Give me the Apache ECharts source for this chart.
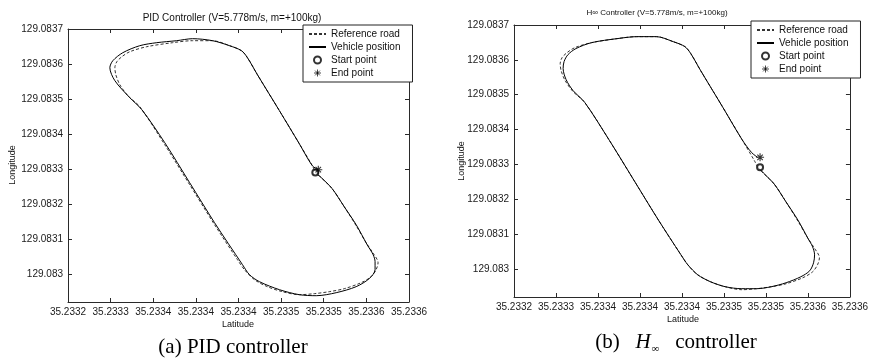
<!DOCTYPE html>
<html>
<head>
<meta charset="utf-8">
<script src="https://cdn.jsdelivr.net/npm/echarts@6/dist/echarts.min.js"></script>
<style>
  html, body { margin: 0; padding: 0; background: #fff; }
  #chart { width: 871px; height: 360px; }
</style>
</head>
<body>
<div id="chart"></div>
<script>
// Axis ticks and their printed labels
const xTickValues = [35.2332, 35.23325, 35.2333, 35.23335, 35.2334, 35.23345, 35.2335, 35.23355, 35.2336];
const xTickLabels = ['35.2332', '35.2333', '35.2334', '35.2334', '35.2334', '35.2335', '35.2335', '35.2336', '35.2336'];
const yTickValues = [129.083, 129.0831, 129.0832, 129.0833, 129.0834, 129.0835, 129.0836, 129.0837];
const yTickLabels = ['129.083', '129.0831', '129.0832', '129.0833', '129.0834', '129.0835', '129.0836', '129.0837'];

// Reference road (latitude, longitude)
const roadLat = [35.2334901, 35.2334971, 35.2335099, 35.2335240, 35.2335380, 35.2335497, 35.2335567, 35.2335637,
  35.2335614, 35.2335556, 35.2335439, 35.2335240, 35.2335064, 35.2334889, 35.2334713, 35.2334515, 35.2334339,
  35.2334187, 35.2334070, 35.2333988, 35.2333719, 35.2333427, 35.2333135, 35.2332842, 35.2332702, 35.2332608,
  35.2332561, 35.2332550, 35.2332573, 35.2332632, 35.2332725, 35.2332924, 35.2333228, 35.2333462, 35.2333696,
  35.2333895, 35.2334035, 35.2334105, 35.2334222, 35.2334480, 35.2334713, 35.2334866, 35.2334901];
const roadLon = [129.0832923, 129.0832752, 129.0832437, 129.0831923, 129.0831380, 129.0830895, 129.0830637, 129.0830323,
  129.0830123, 129.0829923, 129.0829752, 129.0829580, 129.0829495, 129.0829438, 129.0829409, 129.0829495, 129.0829638,
  129.0829838, 129.0830123, 129.0830409, 129.0831409, 129.0832552, 129.0833694, 129.0834780, 129.0835094, 129.0835409,
  129.0835694, 129.0835894, 129.0836066, 129.0836209, 129.0836351, 129.0836494, 129.0836609, 129.0836666, 129.0836666,
  129.0836523, 129.0836380, 129.0836180, 129.0835694, 129.0834666, 129.0833723, 129.0833094, 129.0832923];

// Vehicle track under PID control
const pidLat = [35.2334901, 35.2334971, 35.2335099, 35.2335240, 35.2335380, 35.2335509, 35.2335579, 35.2335602,
  35.2335602, 35.2335532, 35.2335380, 35.2335146, 35.2334912, 35.2334713, 35.2334480, 35.2334246, 35.2334129,
  35.2334047, 35.2333719, 35.2333427, 35.2333135, 35.2332866, 35.2332725, 35.2332550, 35.2332491, 35.2332526,
  35.2332643, 35.2332842, 35.2333041, 35.2333275, 35.2333462, 35.2333696, 35.2333895, 35.2334035, 35.2334105,
  35.2334222, 35.2334480, 35.2334713, 35.2334866, 35.2334936];
const pidLon = [129.0832894, 129.0832752, 129.0832437, 129.0831923, 129.0831409, 129.0830837, 129.0830552, 129.0830352,
  129.0830123, 129.0829866, 129.0829638, 129.0829466, 129.0829380, 129.0829409, 129.0829552, 129.0829780, 129.0829980,
  129.0830266, 129.0831466, 129.0832609, 129.0833752, 129.0834694, 129.0835037, 129.0835523, 129.0835894, 129.0836094,
  129.0836323, 129.0836523, 129.0836609, 129.0836666, 129.0836723, 129.0836666, 129.0836523, 129.0836380, 129.0836180,
  129.0835694, 129.0834666, 129.0833723, 129.0833094, 129.0832980];

// Vehicle track under H-infinity control
const hinfLat = [35.2334901, 35.2334971, 35.2335099, 35.2335240, 35.2335380, 35.2335497, 35.2335556, 35.2335579,
  35.2335567, 35.2335521, 35.2335415, 35.2335240, 35.2335064, 35.2334889, 35.2334713, 35.2334515, 35.2334339,
  35.2334187, 35.2334070, 35.2333988, 35.2333719, 35.2333427, 35.2333135, 35.2332842, 35.2332702, 35.2332620,
  35.2332585, 35.2332596, 35.2332643, 35.2332737, 35.2332924, 35.2333228, 35.2333462, 35.2333696, 35.2333895,
  35.2334035, 35.2334105, 35.2334222, 35.2334480, 35.2334713, 35.2334830, 35.2334901];
const hinfLon = [129.0832923, 129.0832752, 129.0832437, 129.0831923, 129.0831409, 129.0830895, 129.0830637, 129.0830409,
  129.0830180, 129.0829952, 129.0829780, 129.0829609, 129.0829495, 129.0829438, 129.0829438, 129.0829495, 129.0829638,
  129.0829838, 129.0830123, 129.0830409, 129.0831409, 129.0832552, 129.0833694, 129.0834780, 129.0835123, 129.0835437,
  129.0835751, 129.0835951, 129.0836151, 129.0836323, 129.0836494, 129.0836609, 129.0836666, 129.0836666, 129.0836523,
  129.0836380, 129.0836180, 129.0835694, 129.0834666, 129.0833723, 129.0833340, 129.0833206];

// Start / end markers
const pidStart = [35.2334901, 129.0832903];
const pidEnd = [35.2334936, 129.0832980];
const hinfStart = [35.2334930, 129.0832918];
const hinfEnd = [35.2334930, 129.0833206];

const xRange = [35.2332, 35.2336];
const yRange = [129.08292, 129.0837];

const FONT = 'Liberation Sans, Arial, sans-serif';
const SERIF = 'Liberation Serif, Times New Roman, serif';
const AXIS_COLOR = '#2a2a2a';
const ASTERISK = 'path://M5,0L5,10M0,5L10,5M1.6,1.6L8.4,8.4M8.4,1.6L1.6,8.4';

const zip = (a, b) => a.map((v, i) => [v, b[i]]);
const near = (arr, v, eps) => arr.findIndex(t => Math.abs(t - v) < eps);

function xAxes(gridIndex) {
  const base = {
    type: 'value', gridIndex, min: xRange[0], max: xRange[1],
    splitLine: { show: false },
    axisLine: { show: true, onZero: false, lineStyle: { color: AXIS_COLOR, width: 1 } },
    axisTick: { show: true, inside: true, length: 4, customValues: xTickValues, lineStyle: { color: AXIS_COLOR } }
  };
  return [
    Object.assign({}, base, {
      position: 'bottom',
      axisLabel: {
        show: true, margin: 5, fontSize: 10, fontFamily: FONT, color: '#1a1a1a',
        customValues: xTickValues,
        formatter: v => { const i = near(xTickValues, v, 1e-7); return i < 0 ? '' : xTickLabels[i]; }
      }
    }),
    Object.assign({}, base, { position: 'top', axisLabel: { show: false } })
  ];
}

function yAxes(gridIndex) {
  const base = {
    type: 'value', gridIndex, min: yRange[0], max: yRange[1],
    splitLine: { show: false },
    axisLine: { show: true, onZero: false, lineStyle: { color: AXIS_COLOR, width: 1 } },
    axisTick: { show: true, inside: true, length: 4, customValues: yTickValues, lineStyle: { color: AXIS_COLOR } }
  };
  return [
    Object.assign({}, base, {
      position: 'left',
      axisLabel: {
        show: true, margin: 5, fontSize: 10, fontFamily: FONT, color: '#1a1a1a',
        customValues: yTickValues,
        formatter: v => { const i = near(yTickValues, v, 1e-7); return i < 0 ? '' : yTickLabels[i]; }
      }
    }),
    Object.assign({}, base, { position: 'right', axisLabel: { show: false } })
  ];
}

function plotSeries(axisIndex, track, start, end) {
  return [
    {
      name: 'Reference road', type: 'line', xAxisIndex: axisIndex, yAxisIndex: axisIndex,
      data: zip(roadLat, roadLon), symbol: 'none', smooth: 0.3, color: '#333',
      lineStyle: { color: '#333', width: 1, type: [3, 2] }, z: 2
    },
    {
      name: 'Vehicle position', type: 'line', xAxisIndex: axisIndex, yAxisIndex: axisIndex,
      data: track, symbol: 'none', smooth: 0.3, color: '#000',
      lineStyle: { color: '#000', width: 1 }, z: 3
    },
    {
      name: 'Start point', type: 'scatter', xAxisIndex: axisIndex, yAxisIndex: axisIndex,
      data: [start], symbol: 'emptyCircle', symbolSize: 6, color: '#000',
      itemStyle: { color: '#000', borderColor: '#000', borderWidth: 0.8 }, z: 4
    },
    {
      name: 'End point', type: 'scatter', xAxisIndex: axisIndex, yAxisIndex: axisIndex,
      data: [end], symbol: ASTERISK, symbolSize: 8, color: '#000',
      itemStyle: { color: '#000', borderColor: '#000', borderWidth: 1.1 }, z: 5
    }
  ];
}

function legendAt(left, top) {
  const hidden = { color: 'transparent', borderColor: 'transparent', borderWidth: 0 };
  return {
    data: [
      { name: 'Reference road', itemStyle: hidden },
      { name: 'Vehicle position', itemStyle: hidden },
      { name: 'Start point', icon: 'emptyCircle', itemStyle: { color: '#000', borderColor: '#000', borderWidth: 0.8 } },
      { name: 'End point', icon: ASTERISK, itemStyle: { color: '#000', borderColor: '#000', borderWidth: 0.9 } }
    ],
    orient: 'vertical', left, top,
    padding: [4, 12, 4, 5], itemWidth: 17, itemHeight: 7, itemGap: 3,
    borderColor: '#222', borderWidth: 1, borderRadius: 0, backgroundColor: '#fff',
    selectedMode: false, z: 10,
    textStyle: { fontSize: 10, fontFamily: FONT, color: '#111' }
  };
}

const option = {
  animation: false,
  backgroundColor: '#fff',
  grid: [
    { left: 68, top: 29, width: 341, height: 273 },
    { left: 514, top: 25, width: 341, height: 272 }
  ],
  xAxis: [...xAxes(0), ...xAxes(1)],
  yAxis: [...yAxes(0), ...yAxes(1)],
  legend: [legendAt(303, 25), legendAt(751, 21)],
  series: [
    ...plotSeries(0, zip(pidLat, pidLon), pidStart, pidEnd),
    ...plotSeries(2, zip(hinfLat, hinfLon), hinfStart, hinfEnd)
  ],
  graphic: [
    { type: 'text', x: 232, y: 18, style: { text: 'PID Controller (V=5.778m/s, m=+100kg)', font: '10px ' + FONT, fill: '#111', textAlign: 'center', textVerticalAlign: 'middle' } },
    { type: 'text', x: 657, y: 13, style: { text: 'H\u221E Controller (V=5.778m/s, m=+100kg)', font: '8px ' + FONT, fill: '#111', textAlign: 'center', textVerticalAlign: 'middle' } },
    { type: 'text', x: 238, y: 325, style: { text: 'Latitude', font: '9px ' + FONT, fill: '#111', textAlign: 'center', textVerticalAlign: 'middle' } },
    { type: 'text', x: 683, y: 320, style: { text: 'Latitude', font: '9px ' + FONT, fill: '#111', textAlign: 'center', textVerticalAlign: 'middle' } },
    { type: 'text', x: 13, y: 165, rotation: Math.PI / 2, style: { text: 'Longitude', font: '9px ' + FONT, fill: '#111', textAlign: 'center', textVerticalAlign: 'middle' } },
    { type: 'text', x: 462, y: 161, rotation: Math.PI / 2, style: { text: 'Longitude', font: '9px ' + FONT, fill: '#111', textAlign: 'center', textVerticalAlign: 'middle' } },
    { type: 'text', x: 233, y: 347, style: { text: '(a) PID controller', font: '21px ' + SERIF, fill: '#000', textAlign: 'center', textVerticalAlign: 'middle' } },
    {
      type: 'text', x: 676, y: 342,
      style: {
        text: '{n|(b)   }{h|H}{s|\u221E}{n|   controller}',
        textAlign: 'center', textVerticalAlign: 'middle',
        rich: {
          n: { font: '21px ' + SERIF, fill: '#000' },
          h: { font: 'italic 21px ' + SERIF, fill: '#000' },
          s: { font: '11px ' + SERIF, fill: '#000', padding: [14, 0, 0, 1] }
        }
      }
    }
  ]
};

const chart = echarts.init(document.getElementById('chart'), null, { renderer: 'canvas' });
chart.setOption(option);
</script>
</body>
</html>
